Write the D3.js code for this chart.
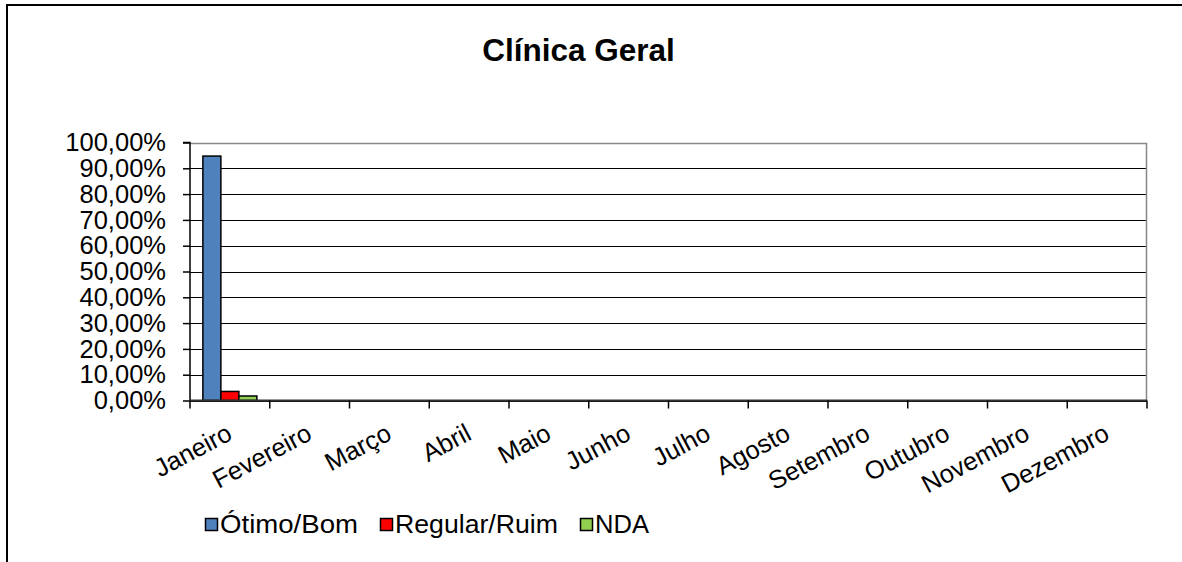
<!DOCTYPE html>
<html>
<head>
<meta charset="utf-8">
<script src="https://cdn.jsdelivr.net/npm/d3@7"></script>
<style>
  html, body { margin: 0; padding: 0; background: #fff; }
  svg { display: block; font-family: "Liberation Sans", Arial, sans-serif; }
</style>
</head>
<body>
<svg id="chart" width="1182" height="562"></svg>
<script>
const title = "Clínica Geral";
const months = ["Janeiro","Fevereiro","Março","Abril","Maio","Junho","Julho","Agosto","Setembro","Outubro","Novembro","Dezembro"];
const seriesNames = ["Ótimo/Bom","Regular/Ruim","NDA"];
const seriesColors = ["#4F81BD","#FF0000","#92D050"];
const otimoBom   = [94.74, null, null, null, null, null, null, null, null, null, null, null];
const regularRuim = [3.51, null, null, null, null, null, null, null, null, null, null, null];
const nda        = [1.75, null, null, null, null, null, null, null, null, null, null, null];
const yTicks = [0,10,20,30,40,50,60,70,80,90,100];

const seriesValues = [otimoBom, regularRuim, nda];
const svg = d3.select("#chart");

// outer chart border (left & top visible)
svg.append("path").attr("d", "M7,562 L7,5 L1182,5")
  .attr("fill","none").attr("stroke","#000").attr("stroke-width",2);

const plot = {left:190, right:1147, top:142.5, bottom:400.5};

const x = d3.scaleBand().domain(months).range([plot.left, plot.right]).padding(0);
const xs = d3.scaleBand().domain(seriesNames).range([0, x.bandwidth()]).paddingInner(0).paddingOuter(0.715);
const y = d3.scaleLinear().domain([0,100]).range([plot.bottom, plot.top]);

// gridlines
svg.append("g").selectAll("line").data(yTicks.filter(t => t < 100)).join("line")
  .attr("x1", plot.left).attr("x2", plot.right)
  .attr("y1", d => Math.round(y(d)) + 0.5).attr("y2", d => Math.round(y(d)) + 0.5)
  .attr("stroke", "#000").attr("stroke-width", 1);

// plot area border top & right (gray)
svg.append("path")
  .attr("d", `M${plot.left},${Math.round(plot.top)+0.5} H${plot.right - 0.5} V${plot.bottom}`)
  .attr("fill","none").attr("stroke","#888").attr("stroke-width",1.5);

// bars
const rows = [];
months.forEach((m, i) => seriesNames.forEach((s, j) => {
  const v = seriesValues[j][i];
  if (v != null) rows.push({m, s, v, c: seriesColors[j]});
}));
svg.append("g").selectAll("rect").data(rows).join("rect")
  .attr("x", d => x(d.m) + xs(d.s))
  .attr("width", xs.bandwidth())
  .attr("y", d => y(d.v))
  .attr("height", d => y(0) - y(d.v))
  .attr("fill", d => d.c)
  .attr("stroke", "#000").attr("stroke-width", 1.5);

// y axis
const yAxis = d3.axisLeft(y).tickValues(yTicks).tickSize(7).tickPadding(17)
  .tickFormat(d => d3.format(".2f")(d).replace(".", ",") + "%");
const gy = svg.append("g").attr("transform", `translate(${plot.left},0)`).call(yAxis);
gy.select(".domain").attr("stroke","#000").attr("stroke-width",1.5).attr("d", `M-7,${y(100)}H0V${y(0)}`);
gy.selectAll(".tick line").attr("stroke","#000").attr("stroke-width",1.5);
gy.selectAll(".tick text").attr("fill","#000").attr("font-size", 25.5).attr("font-family","Liberation Sans, Arial, sans-serif");

// x axis
const xAxis = d3.axisBottom(x).tickSize(0).tickFormat("");
const gx = svg.append("g").attr("transform", `translate(0,${plot.bottom})`).call(xAxis);
gx.select(".domain").attr("stroke","#333").attr("stroke-width",2).attr("d", `M${plot.left},0H${plot.right}`);
// boundary ticks
const bounds = months.map(m => x(m)).concat([plot.right]);
gx.append("g").selectAll("line").data(bounds).join("line")
  .attr("x1", d => d).attr("x2", d => d).attr("y1", 0).attr("y2", 8)
  .attr("stroke","#000").attr("stroke-width",1.5);
// rotated labels
svg.append("g").selectAll("text").data(months).join("text")
  .attr("transform", d => `translate(${x(d) + x.bandwidth()/2 + 4},${plot.bottom + 38}) rotate(-28)`)
  .attr("text-anchor","end")
  .attr("font-size", 25.5)
  .attr("fill","#000")
  .text(d => d);

// title
svg.append("text").attr("x", 578.5).attr("y", 61).attr("text-anchor","middle")
  .attr("font-size", 31.5).attr("font-weight","bold").attr("fill","#000").text(title);

// legend
const legendItems = [{x:205, w:138}, {x:380, w:163}, {x:580, w:54}];
const lg = svg.append("g");
seriesNames.forEach((s, i) => {
  const g = lg.append("g").attr("transform", `translate(${legendItems[i].x},518)`);
  g.append("rect").attr("x",0.5).attr("y",0.5).attr("width",12).attr("height",12)
    .attr("fill", seriesColors[i]).attr("stroke","#000").attr("stroke-width",1.5);
  g.append("text").attr("x", 15).attr("y", 15).attr("font-size", 25)
    .attr("textLength", legendItems[i].w).attr("lengthAdjust","spacingAndGlyphs")
    .attr("fill","#000").text(s);
});
</script>
</body>
</html>
